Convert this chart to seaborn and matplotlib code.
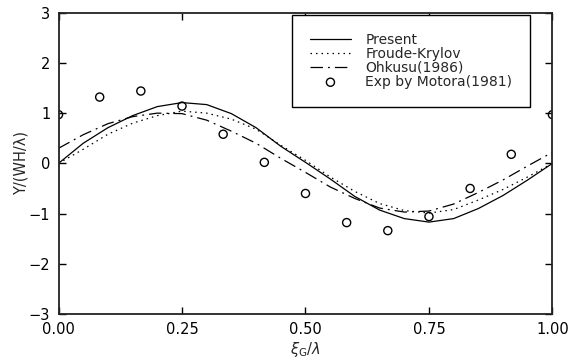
import matplotlib

matplotlib.use("Agg")
import matplotlib.pyplot as plt
import numpy as np
import pandas as pd
import seaborn as sns

# values
x_grid = [0.00, 0.05, 0.10, 0.15, 0.20, 0.25, 0.30, 0.35, 0.40, 0.45, 0.50,
          0.55, 0.60, 0.65, 0.70, 0.75, 0.80, 0.85, 0.90, 0.95, 1.00]
present = [0.00, 0.40, 0.71, 0.95, 1.13, 1.21, 1.17, 0.99, 0.71, 0.34, 0.02,
           -0.31, -0.66, -0.93, -1.10, -1.17, -1.10, -0.90, -0.64, -0.33, 0.00]
froude_krylov = [0.00, 0.28, 0.58, 0.80, 0.95, 1.04, 1.00, 0.88, 0.68, 0.36, 0.06,
                 -0.27, -0.56, -0.80, -0.94, -0.99, -0.92, -0.73, -0.52, -0.27, 0.00]
ohkusu = [0.30, 0.57, 0.79, 0.93, 1.00, 0.99, 0.86, 0.64, 0.40, 0.10, -0.18,
          -0.47, -0.70, -0.89, -0.97, -0.95, -0.81, -0.58, -0.33, -0.05, 0.22]

exp_x = [0.0, 1 / 12, 2 / 12, 3 / 12, 4 / 12, 5 / 12, 6 / 12,
         7 / 12, 8 / 12, 9 / 12, 10 / 12, 11 / 12, 1.0]
exp_y = [0.97, 1.32, 1.44, 1.14, 0.58, 0.02, -0.60,
         -1.18, -1.34, -1.06, -0.50, 0.18, 0.97]

curves = pd.DataFrame({"x": x_grid, "Present": present,
                       "Froude-Krylov": froude_krylov, "Ohkusu(1986)": ohkusu})
exp_df = pd.DataFrame({"x": exp_x, "y": exp_y})

sns.set_style("ticks")
plt.rcParams["font.family"] = ["DejaVu Sans"]
plt.rcParams["font.size"] = 10

fig = plt.figure(figsize=(5.71, 3.63), dpi=100)
ax = fig.add_axes([0.1025, 0.135, 0.865, 0.830])

line_styles = {
    "Present": "-",
    "Froude-Krylov": (0, (1.2, 3.2)),
    "Ohkusu(1986)": (0, (10, 4, 1.5, 4)),
}
for name, ls in line_styles.items():
    sns.lineplot(data=curves, x="x", y=name, ax=ax, color="k", linewidth=0.9,
                 linestyle=ls, label=name)

sns.scatterplot(data=exp_df, x="x", y="y", ax=ax, marker="o", s=34,
                facecolors="none", edgecolor="k", linewidth=1.0,
                label="Exp by Motora(1981)")

ax.set_xlim(0, 1)
ax.set_ylim(-3, 3)
ax.set_xticks([0, 0.25, 0.5, 0.75, 1.0])
ax.set_xticklabels(["0.00", "0.25", "0.50", "0.75", "1.00"])
ax.set_yticks(np.arange(-3, 4, 1))
ax.tick_params(direction="in", length=5, width=1, top=True, right=True,
               labelsize=10.5, pad=6, colors="k")
for sp in ax.spines.values():
    sp.set_linewidth(1.3)
    sp.set_color("#222222")

ax.set_xlabel(r"$\xi_{\mathrm{G}}/\lambda$", fontsize=10.5, labelpad=2)
ax.set_ylabel("Y/(WH/λ)", fontsize=10.5, labelpad=0)

leg = ax.legend(loc="upper right", bbox_to_anchor=(0.955, 0.993), fontsize=10,
                frameon=True, fancybox=False, framealpha=1, edgecolor="k",
                handlelength=3.0, handletextpad=1.0, labelspacing=0.0,
                borderpad=1.3, borderaxespad=0)
leg.get_frame().set_linewidth(1.0)

fig.savefig("out.png", dpi=100)
